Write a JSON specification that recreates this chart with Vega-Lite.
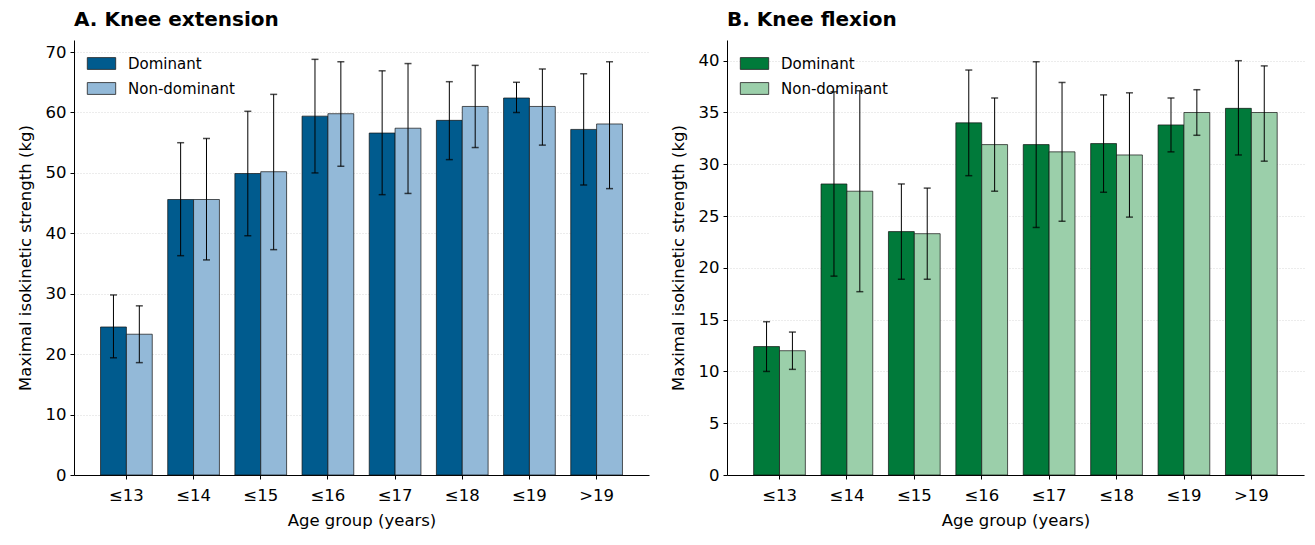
{
  "$schema": "https://vega.github.io/schema/vega-lite/v6.json",
  "background": "white",
  "padding": {"left": 17, "top": 10, "right": 5, "bottom": 5},
  "datasets": {
    "ext": [
      {"age": "≤13", "side": "Dominant", "mean": 24.5, "lo": 19.4, "hi": 29.8},
      {"age": "≤13", "side": "Non-dominant", "mean": 23.3, "lo": 18.6, "hi": 28.0},
      {"age": "≤14", "side": "Dominant", "mean": 45.6, "lo": 36.3, "hi": 55.0},
      {"age": "≤14", "side": "Non-dominant", "mean": 45.6, "lo": 35.6, "hi": 55.7},
      {"age": "≤15", "side": "Dominant", "mean": 49.9, "lo": 39.6, "hi": 60.2},
      {"age": "≤15", "side": "Non-dominant", "mean": 50.2, "lo": 37.3, "hi": 63.0},
      {"age": "≤16", "side": "Dominant", "mean": 59.4, "lo": 50.0, "hi": 68.8},
      {"age": "≤16", "side": "Non-dominant", "mean": 59.8, "lo": 51.1, "hi": 68.4},
      {"age": "≤17", "side": "Dominant", "mean": 56.6, "lo": 46.4, "hi": 66.9},
      {"age": "≤17", "side": "Non-dominant", "mean": 57.4, "lo": 46.6, "hi": 68.1},
      {"age": "≤18", "side": "Dominant", "mean": 58.7, "lo": 52.2, "hi": 65.1},
      {"age": "≤18", "side": "Non-dominant", "mean": 61.0, "lo": 54.2, "hi": 67.8},
      {"age": "≤19", "side": "Dominant", "mean": 62.4, "lo": 60.0, "hi": 65.0},
      {"age": "≤19", "side": "Non-dominant", "mean": 61.0, "lo": 54.6, "hi": 67.2},
      {"age": ">19", "side": "Dominant", "mean": 57.2, "lo": 48.0, "hi": 66.4},
      {"age": ">19", "side": "Non-dominant", "mean": 58.1, "lo": 47.4, "hi": 68.4}
    ],
    "flex": [
      {"age": "≤13", "side": "Dominant", "mean": 12.4, "lo": 10.0, "hi": 14.8},
      {"age": "≤13", "side": "Non-dominant", "mean": 12.0, "lo": 10.2, "hi": 13.8},
      {"age": "≤14", "side": "Dominant", "mean": 28.1, "lo": 19.2, "hi": 37.0},
      {"age": "≤14", "side": "Non-dominant", "mean": 27.4, "lo": 17.7, "hi": 37.1},
      {"age": "≤15", "side": "Dominant", "mean": 23.5, "lo": 18.9, "hi": 28.1},
      {"age": "≤15", "side": "Non-dominant", "mean": 23.3, "lo": 18.9, "hi": 27.7},
      {"age": "≤16", "side": "Dominant", "mean": 34.0, "lo": 28.9, "hi": 39.1},
      {"age": "≤16", "side": "Non-dominant", "mean": 31.9, "lo": 27.4, "hi": 36.4},
      {"age": "≤17", "side": "Dominant", "mean": 31.9, "lo": 23.9, "hi": 39.9},
      {"age": "≤17", "side": "Non-dominant", "mean": 31.2, "lo": 24.5, "hi": 37.9},
      {"age": "≤18", "side": "Dominant", "mean": 32.0, "lo": 27.3, "hi": 36.7},
      {"age": "≤18", "side": "Non-dominant", "mean": 30.9, "lo": 24.9, "hi": 36.9},
      {"age": "≤19", "side": "Dominant", "mean": 33.8, "lo": 31.2, "hi": 36.4},
      {"age": "≤19", "side": "Non-dominant", "mean": 35.0, "lo": 32.8, "hi": 37.2},
      {"age": ">19", "side": "Dominant", "mean": 35.4, "lo": 30.9, "hi": 40.0},
      {"age": ">19", "side": "Non-dominant", "mean": 35.0, "lo": 30.3, "hi": 39.5}
    ]
  },
  "config": {
    "font": "DejaVu Sans",
    "view": {"stroke": null},
    "axis": {
      "labelFont": "DejaVu Sans", "titleFont": "DejaVu Sans",
      "labelFontSize": 16.5, "titleFontSize": 16.5, "titleFontWeight": "normal",
      "labelColor": "#000", "titleColor": "#000",
      "domainColor": "#000", "tickColor": "#000", "tickSize": 4, "domainWidth": 1
    },
    "title": {"font": "DejaVu Sans", "fontSize": 20, "fontWeight": "bold", "anchor": "start", "frame": "group", "color": "#000", "offset": 10},
    "legend": {
      "labelFont": "DejaVu Sans", "labelFontSize": 15, "labelColor": "#000",
      "symbolType": "M-1.2,-0.5H1.2V0.5H-1.2Z", "symbolSize": 560,
      "symbolStrokeColor": "#222", "symbolStrokeWidth": 0.8, "symbolOpacity": 1,
      "rowPadding": 4, "labelOffset": 14, "orient": "none", "legendX": 15, "legendY": 11, "title": null
    }
  },
  "spacing": 21,
  "resolve": {"scale": {"color": "independent"}},
  "hconcat": [
    {
      "title": "A. Knee extension",
      "width": 575,
      "height": 435,
      "data": {"name": "ext"},
      "encoding": {
        "x": {"field": "age", "type": "nominal", "sort": ["≤13","≤14","≤15","≤16","≤17","≤18","≤19",">19"],
              "scale": {"paddingInner": 0.23, "paddingOuter": 0.395},
              "axis": {"title": "Age group (years)", "labelAngle": 0, "labelPadding": 8, "titlePadding": 9}},
        "xOffset": {"field": "side", "type": "nominal", "sort": ["Dominant","Non-dominant"], "scale": {"paddingInner": 0, "paddingOuter": 0}}
      },
      "layer": [
        {
          "mark": {"type": "bar", "stroke": "#111", "strokeWidth": 0.7},
          "encoding": {
            "y": {"field": "mean", "type": "quantitative",
                  "scale": {"domain": [0, 72], "nice": false},
                  "axis": {"title": "Maximal isokinetic strength (kg)", "values": [0,10,20,30,40,50,60,70], "grid": true,
                           "gridColor": "#cfcfcf", "gridDash": [1, 2], "gridWidth": 0.8, "labelPadding": 4, "titlePadding": 12}},
            "color": {"field": "side", "type": "nominal",
                      "scale": {"domain": ["Dominant","Non-dominant"], "range": ["#005b8e","#93b9d8"]}}
          }
        },
        {
          "mark": {"type": "rule", "color": "#000", "strokeWidth": 1},
          "encoding": {"y": {"field": "lo", "type": "quantitative"}, "y2": {"field": "hi"}}
        },
        {
          "mark": {"type": "tick", "color": "#000", "size": 7, "thickness": 1.5, "orient": "horizontal"},
          "encoding": {"y": {"field": "lo", "type": "quantitative"}}
        },
        {
          "mark": {"type": "tick", "color": "#000", "size": 7, "thickness": 1.5, "orient": "horizontal"},
          "encoding": {"y": {"field": "hi", "type": "quantitative"}}
        }
      ]
    },
    {
      "title": "B. Knee flexion",
      "width": 577,
      "height": 435,
      "data": {"name": "flex"},
      "encoding": {
        "x": {"field": "age", "type": "nominal", "sort": ["≤13","≤14","≤15","≤16","≤17","≤18","≤19",">19"],
              "scale": {"paddingInner": 0.23, "paddingOuter": 0.395},
              "axis": {"title": "Age group (years)", "labelAngle": 0, "labelPadding": 8, "titlePadding": 9}},
        "xOffset": {"field": "side", "type": "nominal", "sort": ["Dominant","Non-dominant"], "scale": {"paddingInner": 0, "paddingOuter": 0}}
      },
      "layer": [
        {
          "mark": {"type": "bar", "stroke": "#111", "strokeWidth": 0.7},
          "encoding": {
            "y": {"field": "mean", "type": "quantitative",
                  "scale": {"domain": [0, 42], "nice": false},
                  "axis": {"title": "Maximal isokinetic strength (kg)", "values": [0,5,10,15,20,25,30,35,40], "grid": true,
                           "gridColor": "#cfcfcf", "gridDash": [1, 2], "gridWidth": 0.8, "labelPadding": 4, "titlePadding": 12}},
            "color": {"field": "side", "type": "nominal",
                      "scale": {"domain": ["Dominant","Non-dominant"], "range": ["#007a3a","#9bcfaa"]}}
          }
        },
        {
          "mark": {"type": "rule", "color": "#000", "strokeWidth": 1},
          "encoding": {"y": {"field": "lo", "type": "quantitative"}, "y2": {"field": "hi"}}
        },
        {
          "mark": {"type": "tick", "color": "#000", "size": 7, "thickness": 1.5, "orient": "horizontal"},
          "encoding": {"y": {"field": "lo", "type": "quantitative"}}
        },
        {
          "mark": {"type": "tick", "color": "#000", "size": 7, "thickness": 1.5, "orient": "horizontal"},
          "encoding": {"y": {"field": "hi", "type": "quantitative"}}
        }
      ]
    }
  ]
}
